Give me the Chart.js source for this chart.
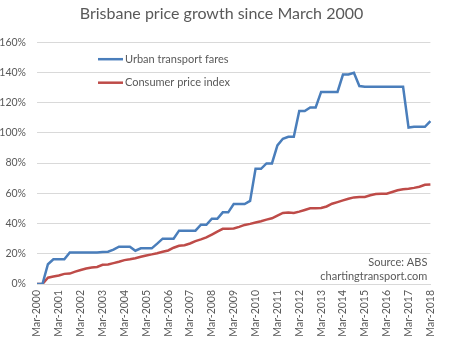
<!DOCTYPE html>
<html lang="en">
<head>
  <meta charset="UTF-8" />
  <title>Brisbane price growth since March 2000</title>
  <style>
    html, body { margin: 0; padding: 0; background: #fff; }
    #wrap { width: 449px; height: 340px; }
  </style>
</head>
<body>
  <div id="wrap"><canvas id="priceChart"></canvas></div>

  <script src="https://cdn.jsdelivr.net/npm/chart.js"></script>
  <script>
    // --- Quarter categories, Mar-2000 .. Mar-2018 ---
    const years = [2000, 2001, 2002, 2003, 2004, 2005, 2006, 2007, 2008, 2009,
                   2010, 2011, 2012, 2013, 2014, 2015, 2016, 2017, 2018];
    const quarterMonths = ['Mar', 'Jun', 'Sep', 'Dec'];

    // growth since Mar-2000, in percent
    const fares = [
      0, 0, 13.1, 16.4, 16.4, 16.4, 20.9, 20.9, 20.9, 20.9,
      20.9, 20.9, 21.2, 21.4, 22.8, 24.7, 24.7, 24.7, 22.0, 23.6,
      23.6, 23.6, 26.7, 30.0, 30.0, 30.0, 35.3, 35.3, 35.3, 35.3,
      39.2, 39.2, 43.2, 43.2, 47.4, 47.4, 52.9, 52.9, 52.9, 55.0,
      76.2, 76.2, 79.8, 79.8, 91.7, 96.1, 97.4, 97.4, 114.4, 114.4,
      116.8, 116.8, 127.1, 127.1, 127.1, 127.1, 138.6, 138.6, 139.7, 131.0,
      130.5, 130.5, 130.5, 130.5, 130.5, 130.5, 130.5, 130.5, 103.5, 104.0,
      104.0, 104.0, 107.7
    ];
    const cpi = [
      0, 0, 4.2, 4.9, 5.6, 6.7, 6.9, 8.2, 9.3, 10.2,
      10.9, 11.3, 12.7, 12.9, 13.8, 14.7, 15.8, 16.4, 17.1, 18.0,
      18.9, 19.6, 20.4, 21.3, 22.2, 24.0, 25.3, 25.7, 26.8, 28.4,
      29.5, 30.8, 32.7, 34.7, 36.5, 36.5, 36.7, 37.8, 39.1, 39.8,
      40.7, 41.5, 42.6, 43.5, 45.3, 47.0, 47.3, 47.0, 47.9, 49.0,
      50.1, 50.2, 50.3, 51.3, 53.1, 54.2, 55.3, 56.4, 57.3, 57.6,
      57.6, 58.7, 59.6, 59.8, 59.8, 60.9, 62.0, 62.7, 63.1, 63.6,
      64.4, 65.6, 65.8
    ];
    const seriesNames = ['Urban transport fares', 'Consumer price index'];
    const sourceNotes = ['Source: ABS', 'chartingtransport.com'];

    const labels = [];
    years.forEach(y => quarterMonths.forEach(m => {
      if (labels.length < fares.length) labels.push(m + '-' + y);
    }));

    const TEXT = '#595959';
    const GRID = '#d9d9d9';
    Chart.defaults.font.family = 'Lato, "Liberation Sans", sans-serif';
    Chart.defaults.color = TEXT;

    // legend drawn inside the plot, plus the source lines at bottom right
    const notesPlugin = {
      id: 'notes',
      afterDraw(chart) {
        const { ctx, chartArea } = chart;
        ctx.save();
        ctx.font = '11px Lato, sans-serif';
        ctx.fillStyle = TEXT;
        ctx.textBaseline = 'middle';
        chart.data.datasets.forEach((ds, i) => {
          const y = chartArea.top + 17 + i * 23.5;
          const x0 = chartArea.left + 61;
          ctx.strokeStyle = ds.borderColor;
          ctx.lineWidth = 2.5;
          ctx.beginPath();
          ctx.moveTo(x0, y);
          ctx.lineTo(x0 + 25, y);
          ctx.stroke();
          ctx.textAlign = 'left';
          ctx.fillText(ds.label, x0 + 27, y);
        });
        ctx.textAlign = 'right';
        sourceNotes.forEach((t, i) => {
          ctx.fillText(t, chartArea.right - 3, chartArea.bottom - 22 + i * 14.5);
        });
        ctx.restore();
      }
    };

    new Chart(document.getElementById('priceChart'), {
      type: 'line',
      data: {
        labels: labels,
        datasets: [
          { label: seriesNames[0], data: fares, borderColor: '#4a7ebb', backgroundColor: '#4a7ebb' },
          { label: seriesNames[1], data: cpi, borderColor: '#be4b48', backgroundColor: '#be4b48' }
        ]
      },
      options: {
        responsive: true,
        maintainAspectRatio: false,
        animation: false,
        elements: {
          line: { borderWidth: 2.5, tension: 0 },
          point: { radius: 0 }
        },
        layout: { padding: { left: 0, right: 6, top: 0, bottom: 0 } },
        plugins: {
          legend: { display: false },
          tooltip: { enabled: false },
          title: {
            display: true,
            text: 'Brisbane price growth since March 2000',
            color: TEXT,
            font: { size: 16, weight: 'normal' },
            padding: { top: 4, bottom: 19 }
          }
        },
        scales: {
          x: {
            offset: false,
            grid: { display: false, drawTicks: false },
            border: { color: GRID },
            ticks: {
              autoSkip: false,
              minRotation: 90,
              maxRotation: 90,
              padding: 6,
              font: { size: 10.5 },
              callback: function (value, index) {
                return index % 4 === 0 ? this.getLabelForValue(value) : null;
              }
            },
            afterFit: (scale) => { scale.height = 56; }
          },
          y: {
            min: 0,
            max: 160,
            grid: { color: GRID, drawTicks: false },
            border: { display: false },
            ticks: {
              stepSize: 20,
              padding: 11,
              font: { size: 10.5 },
              callback: (v) => v + '%'
            },
            afterFit: (scale) => { scale.width = 37; }
          }
        }
      },
      plugins: [notesPlugin]
    });
  </script>
</body>
</html>
